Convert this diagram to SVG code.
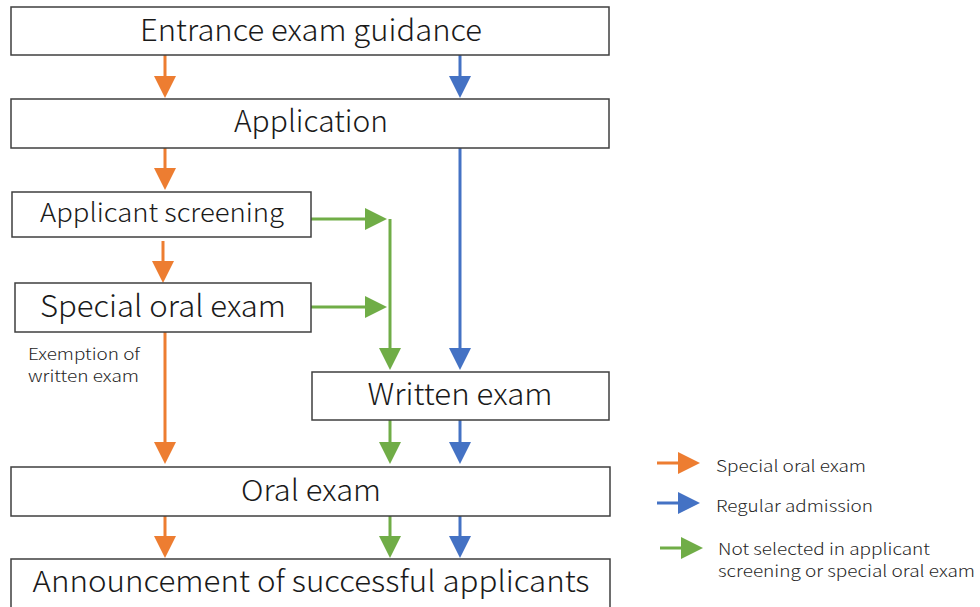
<svg xmlns="http://www.w3.org/2000/svg" width="980" height="607" viewBox="0 0 980 607">
<style>
.box{fill:#fff;stroke:#3f3f3f;stroke-width:1.5}
.t{font-family:"Noto Sans CJK JP","Noto Sans",sans-serif;font-weight:300;fill:#1a1a1a;text-anchor:middle}
.s{font-family:"Noto Sans CJK JP","Noto Sans",sans-serif;font-weight:300;fill:#262626;font-size:16px}
.o{stroke:#ED7D31;stroke-width:3;fill:none}
.b{stroke:#4472C4;stroke-width:3;fill:none}
.g{stroke:#70AD47;stroke-width:3;fill:none}
</style>
<defs>
<marker id="ao" markerUnits="userSpaceOnUse" markerWidth="22" markerHeight="22" refX="12" refY="11" orient="auto"><path d="M0,0 L22,11 L0,22 Z" fill="#ED7D31"/></marker>
<marker id="ab" markerUnits="userSpaceOnUse" markerWidth="22" markerHeight="22" refX="12" refY="11" orient="auto"><path d="M0,0 L22,11 L0,22 Z" fill="#4472C4"/></marker>
<marker id="ag" markerUnits="userSpaceOnUse" markerWidth="22" markerHeight="22" refX="12" refY="11" orient="auto"><path d="M0,0 L22,11 L0,22 Z" fill="#70AD47"/></marker>
</defs>
<rect width="980" height="607" fill="#fff"/>
<g id="connectors">
<line class="o" x1="165" y1="55" x2="165" y2="88" marker-end="url(#ao)"/>
<line class="b" x1="460" y1="55" x2="460" y2="88" marker-end="url(#ab)"/>
<line class="o" x1="165" y1="148" x2="165" y2="180" marker-end="url(#ao)"/>
<line class="b" x1="460" y1="148" x2="460" y2="360" marker-end="url(#ab)"/>
<line class="g" x1="311" y1="219" x2="377" y2="219" marker-end="url(#ag)"/>
<line class="g" x1="390" y1="219" x2="390" y2="360" marker-end="url(#ag)"/>
<line class="o" x1="163" y1="241" x2="163" y2="273" marker-end="url(#ao)"/>
<line class="g" x1="311" y1="307" x2="377" y2="307" marker-end="url(#ag)"/>
<line class="o" x1="165" y1="332" x2="165" y2="454" marker-end="url(#ao)"/>
<line class="g" x1="390" y1="420" x2="390" y2="454" marker-end="url(#ag)"/>
<line class="b" x1="460" y1="420" x2="460" y2="454" marker-end="url(#ab)"/>
<line class="o" x1="165" y1="516" x2="165" y2="548" marker-end="url(#ao)"/>
<line class="g" x1="390" y1="516" x2="390" y2="548" marker-end="url(#ag)"/>
<line class="b" x1="460" y1="516" x2="460" y2="548" marker-end="url(#ab)"/>
</g>
<g id="n1"><rect class="box" x="11" y="7" width="598" height="48"/><text class="t" x="311" y="41" font-size="30" textLength="342" lengthAdjust="spacingAndGlyphs">Entrance exam guidance</text></g>
<g id="n2"><rect class="box" x="11" y="99" width="598" height="49"/><text class="t" x="311" y="132" font-size="30" textLength="154" lengthAdjust="spacingAndGlyphs">Application</text></g>
<g id="n3"><rect class="box" x="12" y="192" width="299" height="45"/><text class="t" x="162" y="222" font-size="26" textLength="244" lengthAdjust="spacingAndGlyphs">Applicant screening</text></g>
<g id="n4"><rect class="box" x="15" y="283" width="296" height="49"/><text class="t" x="163" y="317" font-size="30" textLength="246" lengthAdjust="spacingAndGlyphs">Special oral exam</text></g>
<g id="n5"><rect class="box" x="312" y="372" width="297" height="48"/><text class="t" x="460" y="405" font-size="30" textLength="185" lengthAdjust="spacingAndGlyphs">Written exam</text></g>
<g id="n6"><rect class="box" x="11" y="467" width="599" height="49"/><text class="t" x="311" y="501" font-size="29" textLength="140" lengthAdjust="spacingAndGlyphs">Oral exam</text></g>
<g id="n7"><rect class="box" x="11" y="559" width="599" height="52"/><text class="t" x="311" y="592" font-size="29" textLength="557" lengthAdjust="spacingAndGlyphs">Announcement of successful applicants</text></g>
<g id="note"><text class="s" x="28" y="360" textLength="112" lengthAdjust="spacingAndGlyphs">Exemption of</text><text class="s" x="28" y="382" textLength="111" lengthAdjust="spacingAndGlyphs">written exam</text></g>
<g id="legend">
<line class="o" x1="657" y1="463" x2="690" y2="463" marker-end="url(#ao)"/>
<text class="s" x="716" y="472" font-size="17" textLength="150" lengthAdjust="spacingAndGlyphs">Special oral exam</text>
<line class="b" x1="657" y1="503" x2="690" y2="503" marker-end="url(#ab)"/>
<text class="s" x="716" y="512" font-size="17" textLength="157" lengthAdjust="spacingAndGlyphs">Regular admission</text>
<line class="g" x1="660" y1="548" x2="693" y2="548" marker-end="url(#ag)"/>
<text class="s" x="718" y="555" textLength="212" lengthAdjust="spacingAndGlyphs">Not selected in applicant</text>
<text class="s" x="718" y="577" textLength="257" lengthAdjust="spacingAndGlyphs">screening or special oral exam</text>
</g>
</svg>
